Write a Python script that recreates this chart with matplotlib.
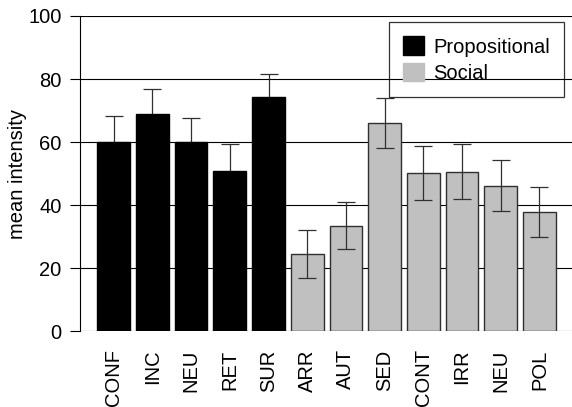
import matplotlib
matplotlib.use("Agg")
import matplotlib.pyplot as plt
from matplotlib.patches import Patch

plt.rcParams['font.family'] = ['Liberation Sans', 'DejaVu Sans']

categories = ['CONF', 'INC', 'NEU', 'RET', 'SUR',
              'ARR', 'AUT', 'SED', 'CONT', 'IRR', 'NEU', 'POL']
means = [60.0, 69.0, 60.0, 50.7, 74.2,
         24.5, 33.5, 66.0, 50.3, 50.6, 46.2, 37.8]
errors = [8.2, 7.8, 7.8, 8.7, 7.4,
          7.6, 7.5, 8.0, 8.5, 8.7, 8.2, 8.0]
groups = ['Propositional'] * 5 + ['Social'] * 7

colors = {'Propositional': 'black', 'Social': '#c0c0c0'}
edges = {'Propositional': 'black', 'Social': '#303030'}

fig = plt.figure(figsize=(5.72, 4.07), dpi=100)
ax = fig.add_axes([0.1393, 0.186, 0.8607, 0.7747])

x = list(range(len(categories)))
ax.bar(x, means, width=0.845,
       color=[colors[g] for g in groups],
       edgecolor=[edges[g] for g in groups],
       linewidth=1.0, zorder=2)

# error bars: drawn behind the black bars (lower half hidden), in front of the gray ones
for g, z in [('Propositional', 1.5), ('Social', 3)]:
    idx = [i for i in x if groups[i] == g]
    ax.errorbar(idx, [means[i] for i in idx], yerr=[errors[i] for i in idx],
                fmt='none', ecolor='#303030', elinewidth=0.9,
                capsize=6.5, capthick=0.9, zorder=z)

ax.set_ylim(0, 100)
ax.set_xlim(-0.879, 11.84)
ax.set_yticks([0, 20, 40, 60, 80, 100])
ax.yaxis.grid(True, color='black', linewidth=0.8, zorder=0)
ax.set_axisbelow(True)

for s in ['top', 'right', 'bottom']:
    ax.spines[s].set_visible(False)
ax.spines['left'].set_linewidth(0.8)

ax.set_xticks(x)
ax.set_xticklabels(categories, rotation=90, fontsize=14.5)
ax.tick_params(axis='x', length=0, pad=13)
ax.tick_params(axis='y', length=7, width=0.8, pad=6, labelsize=14.5)

ax.set_ylabel('mean intensity', fontsize=14.5, labelpad=1)

handles = [Patch(facecolor='black', edgecolor='black', label='Propositional'),
           Patch(facecolor='#c0c0c0', edgecolor='#c0c0c0', label='Social')]
leg = ax.legend(handles=handles, loc='upper right', bbox_to_anchor=(0.984, 0.980),
                borderaxespad=0, fontsize=14.5, frameon=True, fancybox=False,
                handlelength=1.07, handleheight=1.05, handletextpad=0.45,
                labelspacing=0.3, borderpad=0.7)
leg.get_frame().set_edgecolor('black')
leg.get_frame().set_linewidth(0.9)
leg.get_frame().set_facecolor('none')

fig.savefig('out.png', dpi=100)
